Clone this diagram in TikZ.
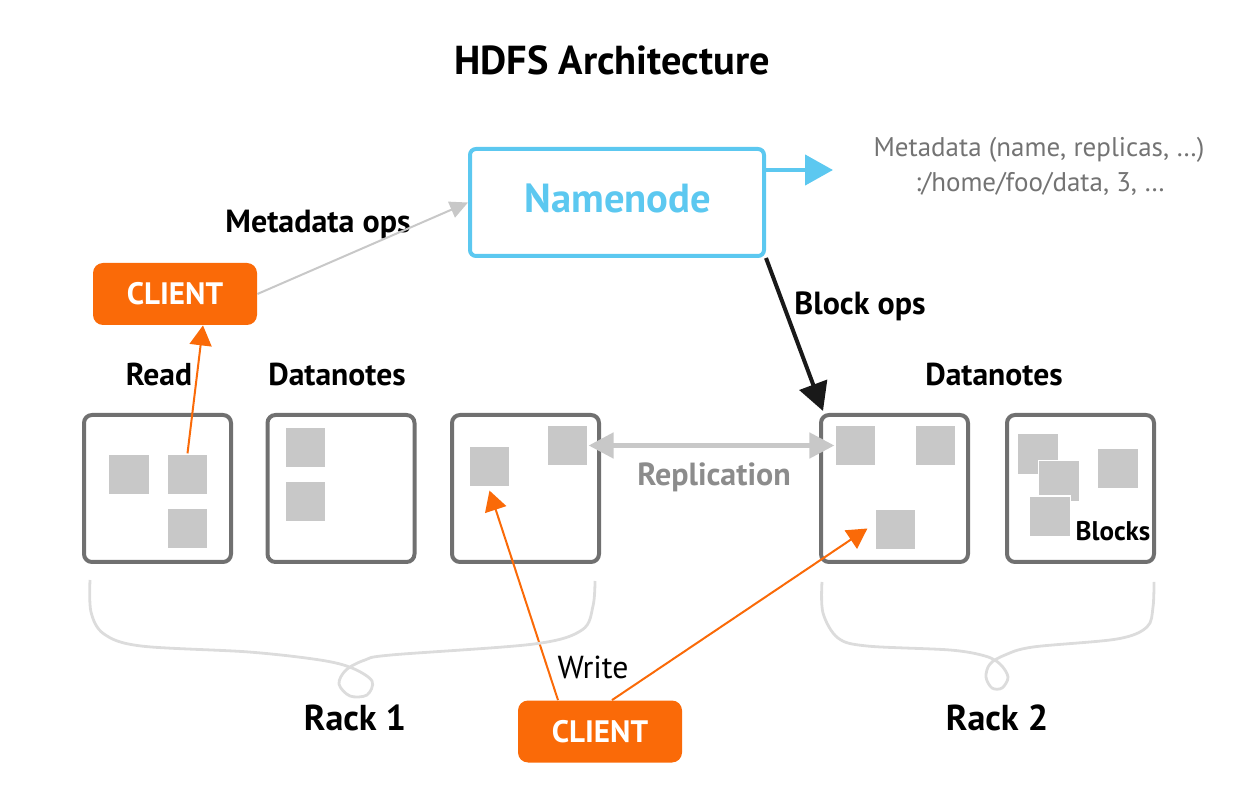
\documentclass[tikz,border=0pt]{standalone}
\usepackage{fontspec}
\setmainfont{PT Sans}
\usetikzlibrary{arrows.meta}
\definecolor{nncyan}{RGB}{92,200,240}
\definecolor{clorange}{RGB}{250,106,8}
\definecolor{boxgray}{RGB}{112,112,112}
\definecolor{blockgray}{RGB}{200,200,200}
\definecolor{bracegray}{RGB}{220,220,220}
\definecolor{metagray}{RGB}{115,115,115}
\definecolor{repgray}{RGB}{140,140,140}
\tikzset{
  dnbox/.style={draw=boxgray, line width=2pt, rounded corners=4pt, fill=white,
    minimum width=73.5pt, minimum height=73.5pt, inner sep=0pt},
  blk/.style={fill=blockgray, draw=white, line width=0.6pt, minimum size=20.5pt, inner sep=0pt},
  client/.style={fill=clorange, rounded corners=5pt, minimum width=82pt, minimum height=31pt,
    inner sep=0pt},
  clienttext/.style={anchor=base, text=white, font=\bfseries\fontsize{15.5}{18}\selectfont},
  lbl/.style={anchor=base, font=\bfseries\fontsize{15.8}{18}\selectfont},
  oplbl/.style={anchor=base, font=\bfseries\fontsize{16}{19}\selectfont},
  rack/.style={anchor=base, font=\bfseries\fontsize{18}{21}\selectfont},
  brace/.style={draw=bracegray, line width=1.4pt},
  orangearrow/.style={draw=clorange, line width=1pt, -{Triangle[length=10pt, width=11pt]}},
}
\begin{document}
\begin{tikzpicture}[x=0.5pt, y=-0.5pt]
\useasboundingbox (0,0) rectangle (1238,796);

% title
\node[anchor=base, font=\bfseries\fontsize{20.2}{24}\selectfont] (title) at (612,75) {HDFS Architecture};

% namenode
\node[draw=nncyan, line width=2pt, rounded corners=3pt, minimum width=147pt, minimum height=53.5pt,
  inner sep=0pt] (namenode) at (617,202.5) {};
\node[anchor=base, text=nncyan, font=\bfseries\fontsize{20.3}{24}\selectfont] (nntext) at (618,213) {Namenode};

% metadata text
\node[anchor=base, text=metagray, font=\fontsize{13.5}{16}\selectfont] (meta1) at (1039,157) {Metadata (name, replicas, …)};
\node[anchor=base, text=metagray, font=\fontsize{13.5}{16}\selectfont] (meta2) at (1040,192) {:/home/foo/data, 3, …};
\coordinate (metatip) at (833,170);
\draw[draw=nncyan, line width=2.2pt, -{Triangle[length=14pt, width=15pt]}] (namenode.east |- metatip) -- (metatip);

% clients
\node[client] (client1) at (175,294) {};
\node[clienttext] (c1text) at (175,305) {CLIENT};
\node[client] (client2) at (600,731.5) {};
\node[clienttext] (c2text) at (600,742.5) {CLIENT};

% labels
\node[oplbl] (metaops) at (318,233) {Metadata ops};
\node[oplbl] (blockops) at (860,315) {Block ops};
\node[lbl] (read) at (159,386) {Read};
\node[lbl] (dn1) at (337,386) {Datanotes};
\node[lbl] (dn2) at (994,386) {Datanotes};
\node[anchor=base, text=repgray, font=\bfseries\fontsize{16}{19}\selectfont] (repl) at (714,486) {Replication};
\node[anchor=base, font=\fontsize{15.9}{19}\selectfont] (write) at (593,678) {Write};
\node[rack] (rack1) at (355,731) {Rack 1};
\node[rack] (rack2) at (997,731) {Rack 2};

% datanode boxes
\node[dnbox] (box1) at (157.5,488.5) {};
\node[dnbox] (box2) at (341,488.5) {};
\node[dnbox] (box3) at (525.5,488.5) {};
\node[dnbox] (box4) at (894.5,488.5) {};
\node[dnbox] (box5) at (1080.5,488.5) {};

% blocks
\node[blk] (b1a) at (129,474.5) {};
\node[blk] (b1b) at (187.5,474.5) {};
\node[blk] (b1c) at (187.5,528.5) {};
\node[blk] (b2a) at (305.5,447.5) {};
\node[blk] (b2b) at (305.5,501.5) {};
\node[blk] (b3a) at (489.5,466.5) {};
\node[blk] (b3b) at (567.5,445.5) {};
\node[blk] (b4a) at (855.5,445.5) {};
\node[blk] (b4b) at (935.5,445.5) {};
\node[blk] (b4c) at (895.5,529.5) {};
\node[blk] (b5a) at (1038,454) {};
\node[blk] (b5b) at (1059,481) {};
\node[blk] (b5c) at (1050,516.5) {};
\node[blk] (b5d) at (1118,468.5) {};
\node[anchor=base, font=\bfseries\fontsize{13.5}{16}\selectfont] (blockslbl) at (1113,541) {Blocks};

% connectors
\draw[draw=blockgray, line width=1pt, -{Triangle[length=9pt, width=8.5pt]}] (client1.east) -- (namenode.west);
\draw[draw=black!90, line width=2pt, -{Triangle[length=14pt, width=14.5pt]}] (namenode.south east) -- ([xshift=2pt,yshift=1pt]box4.north west);
\draw[draw=blockgray, line width=2.5pt, {Triangle[length=12.5pt, width=12.5pt]}-{Triangle[length=12.5pt, width=12.5pt]}] (b3b.east) -- (b4a.west);
\draw[orangearrow] (b1b.north) -- ([xshift=14pt]client1.south);
\draw[orangearrow] ([xshift=-21pt]client2.north) -- ([yshift=-1.5pt]b3a.south);
\draw[orangearrow] ([xshift=6pt]client2.north) -- ([xshift=-3.5pt,yshift=0.5pt]b4c.west);

% braces
\draw[brace] plot[smooth, tension=0.55] coordinates {(90,580) (91,612) (104,634) (141,646) (249,652) (320,660) (352,668) (372,681) (367,695) (350,696) (339,684) (346,670) (365,660) (391,655) (534,644) (582,630) (593,606) (595,581)};
\draw[brace] plot[smooth, tension=0.55] coordinates {(822,582) (823,613) (838,638) (867,646) (950,650) (985,656) (1000,664) (1008,677) (1002,688) (992,688) (986,677) (990,664) (1005,655) (1033,647) (1117,639) (1147,627) (1153,607) (1154,582)};
\end{tikzpicture}
\end{document}
